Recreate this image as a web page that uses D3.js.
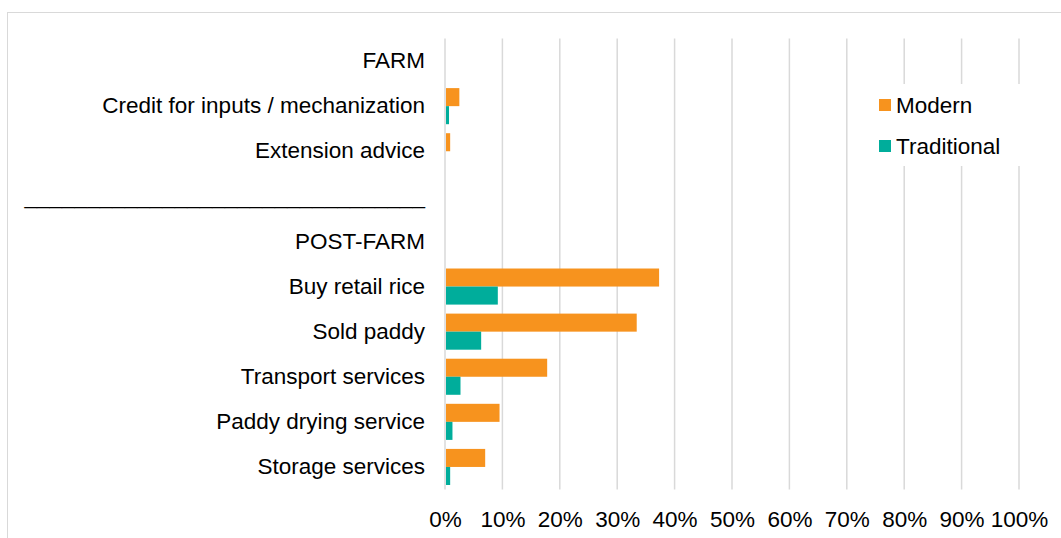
<!DOCTYPE html>
<html>
<head>
<meta charset="utf-8">
<script src="https://cdn.jsdelivr.net/npm/d3@7/dist/d3.min.js"></script>
<style>
  html, body { margin: 0; padding: 0; background: #fff; }
  svg { display: block; font-family: "Liberation Sans", Arial, sans-serif; }
</style>
</head>
<body>
<svg id="chart" width="1061" height="538"></svg>
<script>
// Services used, by stage of the value chain (share of respondents)
const categories = [
  "FARM",
  "Credit for inputs / mechanization",
  "Extension advice",
  "________________________________",
  "POST-FARM",
  "Buy retail rice",
  "Sold paddy",
  "Transport services",
  "Paddy drying service",
  "Storage services"
];
const seriesNames = ["Modern", "Traditional"];
const modernValues =      [null, 2.5, 0.9, null, null, 37.3, 33.4, 17.8, 9.5, 7.0];
const traditionalValues = [null, 0.7, 0.0, null, null,  9.2,  6.3,  2.7, 1.3, 0.9];
const xTicks = [0, 10, 20, 30, 40, 50, 60, 70, 80, 90, 100];
const colors = ["#F7931E", "#00AD9B"];

const svg = d3.select("#chart");
const W = 1061, H = 538;
const plot = { left: 445, right: 1019, top: 38.5, bottom: 489.5 };
const fontSize = 22.5;

// outer chart frame
svg.append("rect")
  .attr("x", 7.5).attr("y", 12.5)
  .attr("width", W + 10).attr("height", H + 10)
  .attr("fill", "none").attr("stroke", "#d9d9d9").attr("stroke-width", 1);

const x = d3.scaleLinear().domain([0, 100]).range([plot.left, plot.right]);
const y = d3.scaleBand().domain(d3.range(categories.length))
  .range([plot.top, plot.bottom]).paddingInner(0.2).paddingOuter(0.1);
const sub = d3.scaleBand().domain(seriesNames).range([0, y.bandwidth()]);

// vertical gridlines
svg.append("g").selectAll("line").data(xTicks).join("line")
  .attr("x1", d => x(d)).attr("x2", d => x(d))
  .attr("y1", plot.top).attr("y2", plot.bottom)
  .attr("stroke", "#d9d9d9").attr("stroke-width", 1.5);

// x axis labels
const xAxis = d3.axisBottom(x).tickValues(xTicks).tickFormat(d => d + "%").tickSize(0).tickPadding(0);
const gx = svg.append("g").attr("transform", `translate(0,${plot.bottom})`).call(xAxis);
gx.select(".domain").remove();
gx.selectAll("text")
  .attr("y", 37).attr("dy", 0)
  .attr("font-size", fontSize).attr("fill", "#000")
  .attr("font-family", "Liberation Sans, Arial, sans-serif");

// y axis category labels
const yAxis = d3.axisLeft(y).tickFormat(i => categories[i]).tickSize(0).tickPadding(20);
const gy = svg.append("g").attr("transform", `translate(${plot.left},0)`).call(yAxis);
gy.select(".domain").remove();
gy.selectAll("text")
  .attr("font-size", fontSize).attr("fill", "#000")
  .attr("font-family", "Liberation Sans, Arial, sans-serif");

// bars
const seriesData = [modernValues, traditionalValues];
seriesData.forEach((vals, si) => {
  svg.append("g").selectAll("rect")
    .data(vals.map((v, i) => ({ i, v })).filter(d => d.v !== null && d.v > 0))
    .join("rect")
    .attr("x", x(0) + 1)
    .attr("y", d => y(d.i) + sub(seriesNames[si]))
    .attr("width", d => x(d.v) - x(0) - 1)
    .attr("height", sub.bandwidth())
    .attr("fill", colors[si]);
});

// legend
const lg = svg.append("g");
lg.append("rect").attr("x", 862).attr("y", 84).attr("width", 160).attr("height", 82).attr("fill", "#fff");
seriesNames.forEach((name, i) => {
  const cy = 105 + i * 41;
  lg.append("rect").attr("x", 879).attr("y", cy - 6).attr("width", 12).attr("height", 12).attr("fill", colors[i]);
  lg.append("text").attr("x", 896).attr("y", cy).attr("dy", "0.35em")
    .attr("font-size", fontSize).attr("fill", "#000").text(name);
});
</script>
</body>
</html>
